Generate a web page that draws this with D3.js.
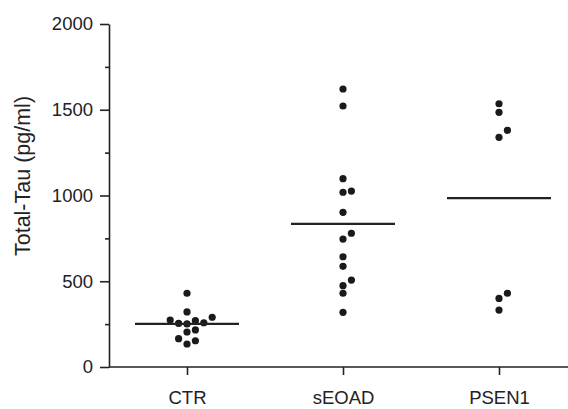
<!DOCTYPE html>
<html>
<head>
<meta charset="utf-8">
<script src="https://cdn.jsdelivr.net/npm/d3@7"></script>
<style>
  body { margin: 0; background: #fff; }
  text { font-family: "Liberation Sans", Arial, Helvetica, sans-serif; fill: #222; }
</style>
</head>
<body>
<svg width="568" height="409"></svg>
<script>
var width = 568, height = 409;

var groups = ['CTR', 'sEOAD', 'PSEN1'];
var ctrValues = [430, 321, 290, 274, 270, 258, 254, 251, 216, 204, 165, 153, 134];
var seoadValues = [1621, 1522, 1098, 1026, 1019, 902, 780, 746, 643, 587, 507, 474, 430, 319];
var psen1Values = [1535, 1485, 1380, 1339, 430, 400, 332];
var medians = [251, 834, 985];
var yTicks = [0, 500, 1000, 1500, 2000];
var yMinorTicks = [250, 750, 1250, 1750];

var seriesValues = [ctrValues, seoadValues, psen1Values];

var svg = d3.select('svg');

var margin = { top: 24, left: 109, bottom: 42 };

var x = d3.scalePoint()
    .domain(groups)
    .range([margin.left, width + 9])
    .padding(0.5);

var y = d3.scaleLinear()
    .domain([0, 2000])
    .range([height - margin.bottom, margin.top]);

var r = 3.6;
var colStep = 8.4;

// y axis
var yAxisG = svg.append('g')
    .attr('transform', `translate(${margin.left},0)`);

yAxisG.call(d3.axisLeft(y).tickValues(yTicks).tickFormat(d3.format('d'))
    .tickSize(9).tickPadding(7).tickSizeOuter(0));
yAxisG.append('g')
    .call(d3.axisLeft(y).tickValues(yMinorTicks).tickSize(4).tickFormat('').tickSizeOuter(0))
  .select('.domain').remove();

// x axis
var xAxisG = svg.append('g')
    .attr('transform', `translate(0,${y(0)})`);
xAxisG.call(d3.axisBottom(x).tickSize(8).tickPadding(16).tickSizeOuter(0));
xAxisG.select('.domain').attr('d', `M${margin.left},0H${width + 9}`);

svg.selectAll('.domain, .tick line')
    .attr('stroke', '#222')
    .attr('stroke-width', 1.6);

svg.selectAll('.tick text')
    .attr('font-size', 18.5)
    .attr('fill', '#222')
    .attr('font-family', '"Liberation Sans", Arial, sans-serif');

// y label
svg.append('text')
    .attr('transform', `translate(30,176) rotate(-90)`)
    .attr('text-anchor', 'middle')
    .attr('font-size', 21.5)
    .text('Total-Tau (pg/ml)');

// simple swarm: place each dot in the nearest free column
function swarm(values) {
  var placed = [];
  var order = [0, 1, -1, 2, -2, 3, -3];
  values.slice().sort((a, b) => a - b).forEach(v => {
    var py = y(v);
    for (var i = 0; i < order.length; i++) {
      var px = order[i] * colStep;
      var hit = placed.some(p => Math.hypot(p.dx - px, p.y - py) < 2 * r + 0.3);
      if (!hit) { placed.push({ v: v, dx: px, y: py }); break; }
    }
  });
  return placed;
}

var plot = svg.append('g');

groups.forEach((g, i) => {
  var pts = swarm(seriesValues[i]);
  plot.selectAll('circle.g' + i).data(pts)
    .enter().append('circle')
      .attr('class', 'g' + i)
      .attr('cx', d => x(g) + d.dx)
      .attr('cy', d => d.y)
      .attr('r', r)
      .attr('fill', '#1a1a1a');

  plot.append('line')
      .attr('x1', x(g) - x.step() / 3)
      .attr('x2', x(g) + x.step() / 3)
      .attr('y1', y(medians[i]))
      .attr('y2', y(medians[i]))
      .attr('stroke', '#222')
      .attr('stroke-width', 2.2);
});
</script>
</body>
</html>
